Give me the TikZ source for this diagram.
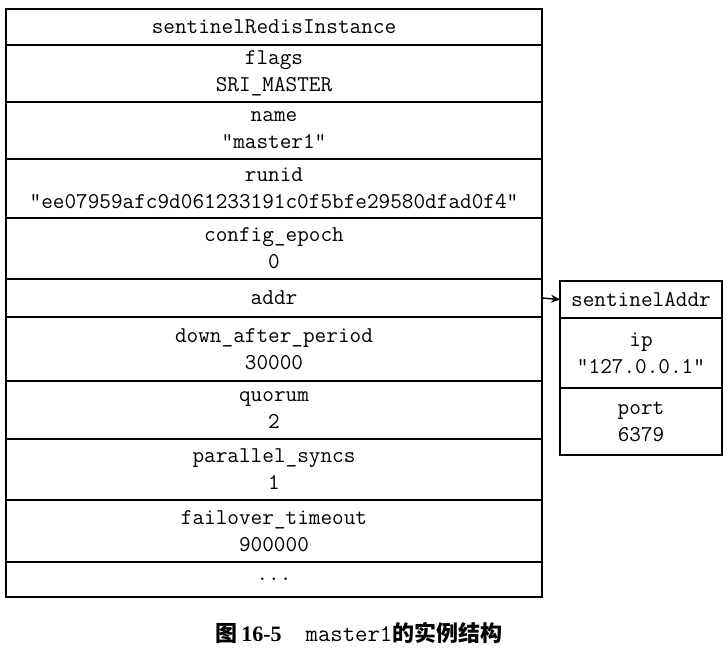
\documentclass[tikz,border=0pt]{standalone}
\usepackage{fontspec}
\setmainfont{Liberation Serif}
\newfontfamily\cjk{Noto Sans CJK SC}
\usetikzlibrary{arrows.meta}
\usetikzlibrary{positioning}

\begin{document}
\begin{tikzpicture}[x=1pt,y=-1pt,
    field/.style={draw,line width=1.6pt,outer sep=0pt,inner sep=0pt,
      minimum width=536pt,align=center,
      font={\ttfamily\fontsize{22.6}{27}\selectfont}},
    addrfield/.style={field,minimum width=162pt}]
  \useasboundingbox (0,0) rectangle (728,648);

  \node [field,minimum height=36pt] (head) at (274,27) {sentinelRedisInstance};
  \node [field,minimum height=57pt,below=0pt of head] (flags) {flags\\SRI\_MASTER};
  \node [field,minimum height=57pt,below=0pt of flags] (name) {name\\"master1"};
  \node [field,minimum height=59pt,below=0pt of name] (runid)
    {runid\\"ee07959afc9d061233191c0f5bfe29580dfad0f4"};
  \node [field,minimum height=61pt,below=0pt of runid] (epoch) {config\_epoch\\0};
  \node [field,minimum height=38pt,below=0pt of epoch] (addr) {addr};
  \node [field,minimum height=64pt,below=0pt of addr] (down) {down\_after\_period\\30000};
  \node [field,minimum height=58pt,below=0pt of down] (quorum) {quorum\\2};
  \node [field,minimum height=61pt,below=0pt of quorum] (syncs) {parallel\_syncs\\1};
  \node [field,minimum height=62pt,below=0pt of syncs] (timeout) {failover\_timeout\\900000};
  \node [field,minimum height=35pt,below=0pt of timeout] (more) {...};

  \node [addrfield,minimum height=37pt] (saddr) at (641,299.5) {sentinelAddr};
  \node [addrfield,minimum height=70pt,below=0pt of saddr] (ip) {ip\\"127.0.0.1"};
  \node [addrfield,minimum height=67pt,below=0pt of ip] (port) {port\\6379};

  \path [draw,line width=1.4pt,->,>={Stealth[length=9pt,width=8pt]}] (addr.east) -- (saddr.west);

  \node (caption) at (359,633)
    {\fontsize{22}{22}\selectfont{\cjk\bfseries 图}\,{\bfseries 16-5}\hspace{24pt}%
     {\ttfamily\fontsize{24}{24}\selectfont master1}{\cjk\bfseries 的实例结构}};

\end{tikzpicture}
\end{document}
